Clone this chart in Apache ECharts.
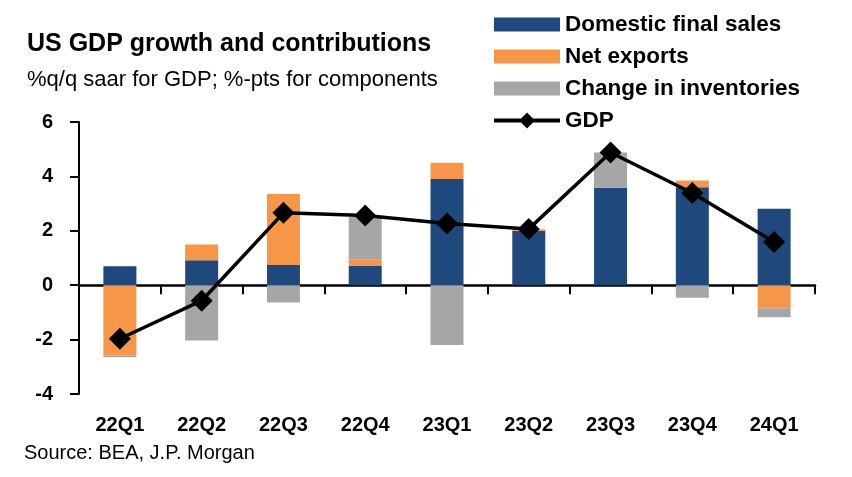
<!DOCTYPE html>
<html>
<head>
<meta charset="utf-8">
<script src="https://cdn.jsdelivr.net/npm/echarts@6/dist/echarts.min.js"></script>
<style>
html,body{margin:0;padding:0;background:#fff;}
#chart{width:852px;height:477px;}
</style>
</head>
<body>
<div id="chart"></div>
<script>
var categories = ['22Q1','22Q2','22Q3','22Q4','23Q1','23Q2','23Q3','23Q4','24Q1'];
var domesticFinalSales = [0.70, 0.92, 0.74, 0.71, 3.90, 2.00, 3.58, 3.60, 2.81];
var netExports = [-2.59, 0.58, 2.61, 0.24, 0.60, 0.06, 0.03, 0.25, -0.85];
var inventories = [-0.06, -2.03, -0.64, 1.56, -2.20, 0.00, 1.27, -0.46, -0.33];
var gdp = [-1.97, -0.57, 2.66, 2.56, 2.27, 2.07, 4.88, 3.39, 1.59];
var yTicks = [-4, -2, 0, 2, 4, 6];

var FONT = 'Liberation Sans, Arial, sans-serif';
var barIcon = 'path://M0,0L66,0L66,14L0,14Z';
var lineIcon = 'path://M0,6L27,6L33,0L39,6L66,6L66,10L39,10L33,16L27,10L0,10Z';
var chart = echarts.init(document.getElementById('chart'), null, {renderer: 'canvas'});
chart.setOption({
  animation: false,
  backgroundColor: '#fff',
  title: [
    {text: 'US GDP growth and contributions', left: 27, top: 32, padding: 0,
     textStyle: {fontFamily: FONT, fontSize: 25, fontWeight: 'bold', color: '#000'}},
    {text: '%q/q saar for GDP; %-pts for components', left: 27, top: 69, padding: 0,
     textStyle: {fontFamily: FONT, fontSize: 22, fontWeight: 'normal', color: '#000'}},
    {text: 'Source: BEA, J.P. Morgan', left: 24, top: 443, padding: 0,
     textStyle: {fontFamily: FONT, fontSize: 20, fontWeight: 'normal', color: '#000'}}
  ],
  legend: {
    orient: 'vertical', left: 494, top: 13, padding: 0,
    itemWidth: 66, itemHeight: 18, itemGap: 9,
    textStyle: {fontFamily: FONT, fontSize: 22.5, fontWeight: 'bold', color: '#000'},
    data: [
      {name: 'Domestic final sales', icon: barIcon},
      {name: 'Net exports', icon: barIcon},
      {name: 'Change in inventories', icon: barIcon},
      {name: 'GDP', icon: lineIcon, itemStyle: {color: '#000'}}
    ]
  },
  grid: {left: 79, right: 37, top: 122, bottom: 83, containLabel: false},
  xAxis: [
    {type: 'category', data: categories, position: 'bottom',
     axisLine: {onZero: true, lineStyle: {color: '#000', width: 2.5}},
     axisTick: {show: true, inside: false, length: 9, lineStyle: {color: '#000', width: 2}},
     axisLabel: {show: false}, splitLine: {show: false}},
    {type: 'category', data: categories, position: 'bottom',
     axisLine: {show: false, onZero: false}, axisTick: {show: false},
     axisLabel: {show: true, margin: 21, fontFamily: FONT, fontSize: 20, fontWeight: 'bold', color: '#000'},
     splitLine: {show: false}}
  ],
  yAxis: {
    type: 'value', min: yTicks[0], max: yTicks[yTicks.length - 1], interval: 2,
    axisLine: {show: true, lineStyle: {color: '#000', width: 2}},
    axisTick: {show: true, inside: false, length: 9, lineStyle: {color: '#000', width: 2}},
    axisLabel: {margin: 26, fontFamily: FONT, fontSize: 20, fontWeight: 'bold', color: '#000'},
    splitLine: {show: false}
  },
  series: [
    {name: 'Domestic final sales', type: 'bar', stack: 'c', barWidth: 33, xAxisIndex: 0,
     itemStyle: {color: '#1F497D'}, data: domesticFinalSales},
    {name: 'Net exports', type: 'bar', stack: 'c', barWidth: 33, xAxisIndex: 0,
     itemStyle: {color: '#F79646'}, data: netExports},
    {name: 'Change in inventories', type: 'bar', stack: 'c', barWidth: 33, xAxisIndex: 0,
     itemStyle: {color: '#A6A6A6'}, data: inventories},
    {name: 'GDP', type: 'line', xAxisIndex: 0, z: 5,
     symbol: 'diamond', symbolSize: 22,
     lineStyle: {color: '#000', width: 3.5}, itemStyle: {color: '#000'}, data: gdp}
  ]
});
</script>
</body>
</html>
